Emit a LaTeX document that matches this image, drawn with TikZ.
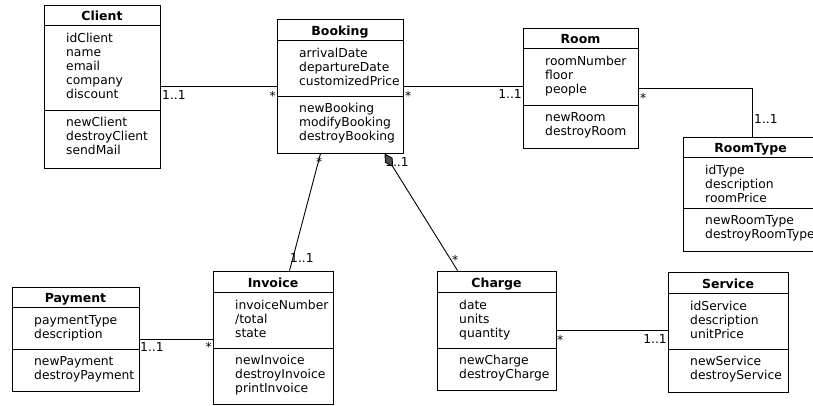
\documentclass[tikz,border=0pt]{standalone}
\usepackage{fontspec}
\setmainfont{DejaVu Sans}
\usetikzlibrary{fit,calc,arrows.meta}

\tikzset{
  classbox/.style={draw=black, line width=0.9pt, inner sep=0pt, fill=white},
  sepline/.style={draw=black, line width=0.9pt},
  titletext/.style={font=\fontsize{12.5}{14}\selectfont\bfseries, anchor=base, inner sep=0pt},
  membertext/.style={font=\fontsize{12.3}{14}\selectfont, anchor=base west, inner sep=0pt},
  multlabel/.style={font=\fontsize{12.3}{14}\selectfont, inner sep=0pt},
  assoc/.style={draw=black, line width=0.9pt},
}

\newcommand{\umlclass}[8]{%
  \coordinate (#1-nw) at (#2,#3);
  \coordinate (#1-se) at (#4,#5);
  \node[classbox, fit=(#1-nw)(#1-se)] (#1) {};
  \draw[sepline] (#2,#6) -- (#4,#6);
  \draw[sepline] (#2,#7) -- (#4,#7);
  \node[titletext] (#1-title) at ({(#2+#4)/2},{#6-5}) {#8};
}
\newcommand{\umlmembers}[4]{%
  \foreach \mtext [count=\mi] in {#4} {
    \node[membertext] (#1\mi) at (#2,{#3+(\mi-1)*14}) {\mtext};
  }
}

\begin{document}
\begin{tikzpicture}[x=1pt,y=-1pt]
\useasboundingbox[fill=white] (0,0) rectangle (813,405);

% classes
\umlclass{client}{44}{5}{160}{168}{25}{110}{Client}
\umlmembers{client-a}{66}{42.5}{idClient,name,email,company,discount}
\umlmembers{client-m}{66}{126.5}{newClient,destroyClient,sendMail}

\umlclass{booking}{277}{19}{403}{153}{40}{96}{Booking}
\umlmembers{booking-a}{299}{57.5}{arrivalDate,departureDate,customizedPrice}
\umlmembers{booking-m}{299}{112.5}{newBooking,modifyBooking,destroyBooking}

\umlclass{room}{523}{28}{638}{148}{48}{105}{Room}
\umlmembers{room-a}{545}{65.5}{roomNumber,floor,people}
\umlmembers{room-m}{545}{121.5}{newRoom,destroyRoom}

\umlclass{roomtype}{683}{137}{818}{251}{157}{208}{RoomType}
\umlmembers{roomtype-a}{705}{174.5}{idType,description,roomPrice}
\umlmembers{roomtype-m}{705}{224.5}{newRoomType,destroyRoomType}

\umlclass{payment}{12}{287}{139}{391}{307}{349}{Payment}
\umlmembers{payment-a}{34}{324.5}{paymentType,description}
\umlmembers{payment-m}{34}{365.5}{newPayment,destroyPayment}

\umlclass{invoice}{213}{271}{333}{404}{292}{348}{Invoice}
\umlmembers{invoice-a}{235}{309.5}{invoiceNumber,/total,state}
\umlmembers{invoice-m}{235}{364.5}{newInvoice,destroyInvoice,printInvoice}

\umlclass{charge}{437}{271}{556}{390}{292}{348}{Charge}
\umlmembers{charge-a}{459}{309.5}{date,units,quantity}
\umlmembers{charge-m}{459}{364.5}{newCharge,destroyCharge}

\umlclass{service}{668}{272}{788}{392}{293}{349}{Service}
\umlmembers{service-a}{690}{310.5}{idService,description,unitPrice}
\umlmembers{service-m}{690}{365.5}{newService,destroyService}

% connectors
\draw[assoc] (client.east) -- (client.east -| booking.west);
\draw[assoc] (booking.east) -- (booking.east -| room.west);
\coordinate (rt-top) at ($(roomtype.north west)+(70,0)$);
\draw[assoc] (room.east) -| (rt-top);
\draw[assoc] (payment.east) -- (payment.east -| invoice.west);
\draw[assoc] (charge.east) -- (charge.east -| service.west);
\coordinate (bk-inv) at ($(booking.south west)+(44,0)$);
\coordinate (inv-top) at ($(invoice.north west)+(77,0)$);
\draw[assoc] (bk-inv) -- (inv-top);
\coordinate (bk-ch) at ($(booking.south west)+(108,0)$);
\coordinate (ch-top) at ($(charge.north west)+(21,0)$);

% multiplicities
\node[multlabel, anchor=base west] (m1) at (162,99) {1..1};
\node[multlabel, anchor=base east] (m2) at (276,100) {*};
\node[multlabel, anchor=base west] (m3) at (405,100) {*};
\node[multlabel, anchor=base east] (m4) at (522,98) {1..1};
\node[multlabel, anchor=base west] (m5) at (640,102) {*};
\node[multlabel, anchor=base west] (m6) at (754,123) {1..1};
\node[multlabel, anchor=base west] (m7) at (316,166) {*};
\node[multlabel, anchor=base west] (m8) at (290,262) {1..1};
\node[multlabel, anchor=base west] (m9) at (385,166) {1..1};
\node[multlabel, anchor=base west] (m10) at (452,264) {*};
\node[multlabel, anchor=base west] (m11) at (140,351) {1..1};
\node[multlabel, anchor=base east] (m12) at (212,351) {*};
\node[multlabel, anchor=base west] (m13) at (557,344) {*};
\node[multlabel, anchor=base east] (m14) at (667,343) {1..1};

\draw[assoc, {Diamond[length=16pt,width=9pt,fill=black!70]}-] (bk-ch) -- (ch-top);
\end{tikzpicture}
\end{document}
